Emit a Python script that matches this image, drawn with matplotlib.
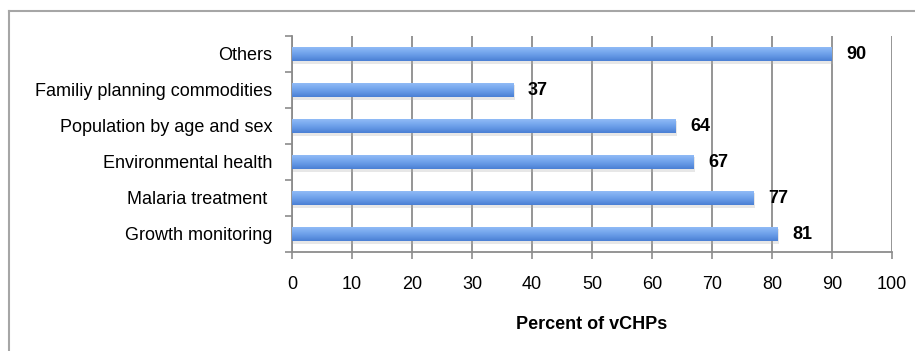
import numpy as np
import matplotlib
matplotlib.use("Agg")
import matplotlib.pyplot as plt
from matplotlib.colors import LinearSegmentedColormap
from matplotlib import patheffects as pe
from matplotlib.lines import Line2D

categories = [
    "Growth monitoring",
    "Malaria treatment ",
    "Environmental health",
    "Population by age and sex",
    "Familiy planning commodities",
    "Others",
]
percents = [81, 77, 67, 64, 37, 90]
xticks = [0, 10, 20, 30, 40, 50, 60, 70, 80, 90, 100]

plt.rcParams["font.family"] = ["Liberation Sans", "DejaVu Sans"]
FS = 13

fig = plt.figure(figsize=(9.15, 3.51), dpi=100)
fig.patch.set_facecolor("white")

# outer chart frame (left and top edges)
frame_col = "#a6a6a6"
fig.add_artist(Line2D([8.5 / 915, 8.5 / 915], [0, 1 - 11 / 351], color=frame_col, lw=1.5,
                      transform=fig.transFigure))
fig.add_artist(Line2D([8.5 / 915, 1.0], [1 - 11 / 351, 1 - 11 / 351], color=frame_col, lw=1.5,
                      transform=fig.transFigure))

ax = fig.add_axes([292 / 915, 1 - 252 / 351, 600 / 915, 216 / 351])
grid_col = "#8c8c8c"

y = np.arange(len(categories))
bars = ax.barh(y, percents, height=0.41, color="#6a9de6", zorder=3)

grad = LinearSegmentedColormap.from_list(
    "bar_grad", ["#4a7fd4", "#6397e4", "#7cacf0", "#96bef7"])
for b in bars:
    b.set_path_effects([pe.SimplePatchShadow(offset=(0.8, -1.6), shadow_rgbFace="#b0b0b0",
                                             alpha=0.3), pe.Normal()])
    x0, y0, w, h = b.get_x(), b.get_y(), b.get_width(), b.get_height()
    img = ax.imshow(np.linspace(0, 1, 64).reshape(-1, 1), cmap=grad, aspect="auto",
                    extent=[x0, x0 + w, y0, y0 + h], origin="lower", zorder=4,
                    interpolation="bilinear")
    img.set_clip_path(b)

for yi, v in zip(y, percents):
    ax.annotate(f"{v}", (v, yi), xytext=(10, -0.5), textcoords="offset points",
                ha="left", va="center", fontsize=FS, fontweight="bold", color="black",
                zorder=5)

ax.set_xlim(0, 100)
ax.set_ylim(-0.5, len(categories) - 0.5)
ax.set_xticks(xticks)
ax.set_xticklabels([str(t) for t in xticks], fontsize=FS)
ax.set_yticks(y)
ax.set_yticklabels(categories, fontsize=FS)
ax.set_yticks(np.arange(-0.5, len(categories), 1.0), minor=True)
ax.tick_params(axis="y", which="major", length=0, pad=14)
ax.tick_params(axis="y", which="minor", length=5, width=1.2, color=grid_col, direction="out")
ax.tick_params(axis="x", which="major", length=5, width=1.2, color=grid_col, direction="out",
               pad=12)

ax.xaxis.grid(True, color=grid_col, lw=1.3, zorder=1)
ax.set_axisbelow(True)
for s in ["top", "right"]:
    ax.spines[s].set_visible(False)
for s in ["left", "bottom"]:
    ax.spines[s].set_color(grid_col)
    ax.spines[s].set_linewidth(1.3)

ax.set_xlabel("Percent of vCHPs", fontsize=FS, fontweight="bold", labelpad=17)

fig.savefig("out.png", dpi=100, facecolor="white")
